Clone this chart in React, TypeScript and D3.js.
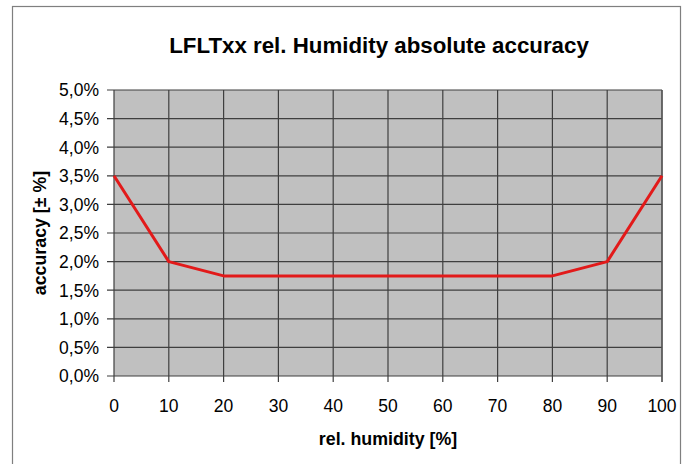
import React, { useEffect, useRef } from 'react';
import * as d3 from 'd3';

const humidity = [0, 10, 20, 30, 40, 50, 60, 70, 80, 90, 100];
const accuracy = [3.5, 2.0, 1.75, 1.75, 1.75, 1.75, 1.75, 1.75, 1.75, 2.0, 3.5];
const yTicks = [0, 0.5, 1.0, 1.5, 2.0, 2.5, 3.0, 3.5, 4.0, 4.5, 5.0];

export default function App() {
  const svgRef = useRef<SVGSVGElement>(null);

  useEffect(() => {
    if (!svgRef.current) return;
    document.body.style.margin = '0';
    const svg = d3.select(svgRef.current);
    svg.selectAll('*').remove();

    const width = 690;
    const height = 464;
    const plot = { left: 114, right: 662, top: 90, bottom: 376 };
    const font = 'Arial, "Liberation Sans", sans-serif';

    svg.attr('width', width).attr('height', height);

    svg.append('rect')
      .attr('x', 0).attr('y', 0).attr('width', width).attr('height', height)
      .attr('fill', '#ffffff');

    // outer chart frame
    svg.append('rect')
      .attr('x', 12.5).attr('y', 6.5)
      .attr('width', 668).attr('height', 470)
      .attr('fill', 'none')
      .attr('stroke', '#7f7f7f')
      .attr('stroke-width', 1.2);

    const x = d3.scaleLinear().domain([0, 100]).range([plot.left, plot.right]);
    const y = d3.scaleLinear().domain([0, 5]).range([plot.bottom, plot.top]);

    svg.append('rect')
      .attr('x', plot.left).attr('y', plot.top)
      .attr('width', plot.right - plot.left)
      .attr('height', plot.bottom - plot.top)
      .attr('fill', '#c0c0c0');

    const gridColor = '#3f3f3f';

    // horizontal gridlines + ticks
    svg.append('g')
      .selectAll('line')
      .data(yTicks)
      .enter()
      .append('line')
      .attr('x1', plot.left - 7)
      .attr('x2', plot.right)
      .attr('y1', d => y(d))
      .attr('y2', d => y(d))
      .attr('stroke', gridColor)
      .attr('stroke-width', 1.2);

    // vertical gridlines + ticks
    svg.append('g')
      .selectAll('line')
      .data(humidity)
      .enter()
      .append('line')
      .attr('x1', d => x(d))
      .attr('x2', d => x(d))
      .attr('y1', plot.top)
      .attr('y2', plot.bottom + 6)
      .attr('stroke', gridColor)
      .attr('stroke-width', 1.2);

    // plot-area right border is lighter
    svg.append('line')
      .attr('x1', plot.right).attr('x2', plot.right)
      .attr('y1', plot.top).attr('y2', plot.bottom + 6)
      .attr('stroke', '#5a5a5a')
      .attr('stroke-width', 1.2);

    // y labels
    svg.append('g')
      .selectAll('text')
      .data(yTicks)
      .enter()
      .append('text')
      .attr('x', 99)
      .attr('y', d => y(d))
      .attr('dy', '0.36em')
      .attr('text-anchor', 'end')
      .style('font-family', font)
      .style('font-size', '17.5px')
      .attr('fill', '#000')
      .text(d => d3.format('.1f')(d).replace('.', ',') + '%');

    // x labels
    svg.append('g')
      .selectAll('text')
      .data(humidity)
      .enter()
      .append('text')
      .attr('x', d => x(d))
      .attr('y', 412)
      .attr('text-anchor', 'middle')
      .style('font-family', font)
      .style('font-size', '17.5px')
      .attr('fill', '#000')
      .text(d => String(d));

    const line = d3.line<number>()
      .x((_, i) => x(humidity[i]))
      .y(d => y(d));

    svg.append('path')
      .datum(accuracy)
      .attr('d', line)
      .attr('fill', 'none')
      .attr('stroke', '#e21a1a')
      .attr('stroke-width', 3)
      .attr('stroke-linejoin', 'round');

    // titles
    svg.append('text')
      .attr('x', 379)
      .attr('y', 53)
      .attr('text-anchor', 'middle')
      .style('font-family', font)
      .style('font-size', '22.3px')
      .style('font-weight', 'bold')
      .attr('fill', '#000')
      .text('LFLTxx rel. Humidity absolute accuracy');

    svg.append('text')
      .attr('x', (plot.left + plot.right) / 2)
      .attr('y', 445)
      .attr('text-anchor', 'middle')
      .style('font-family', font)
      .style('font-size', '17.8px')
      .style('font-weight', 'bold')
      .attr('fill', '#000')
      .text('rel. humidity [%]');

    svg.append('text')
      .attr('transform', `translate(46, ${(plot.top + plot.bottom) / 2}) rotate(-90)`)
      .attr('text-anchor', 'middle')
      .style('font-family', font)
      .style('font-size', '17.8px')
      .style('font-weight', 'bold')
      .attr('fill', '#000')
      .text('accuracy [± %]');
  }, []);

  return (
    <div style={{ width: 690, height: 464 }}>
      <svg ref={svgRef} style={{ display: 'block' }} />
    </div>
  );
}
